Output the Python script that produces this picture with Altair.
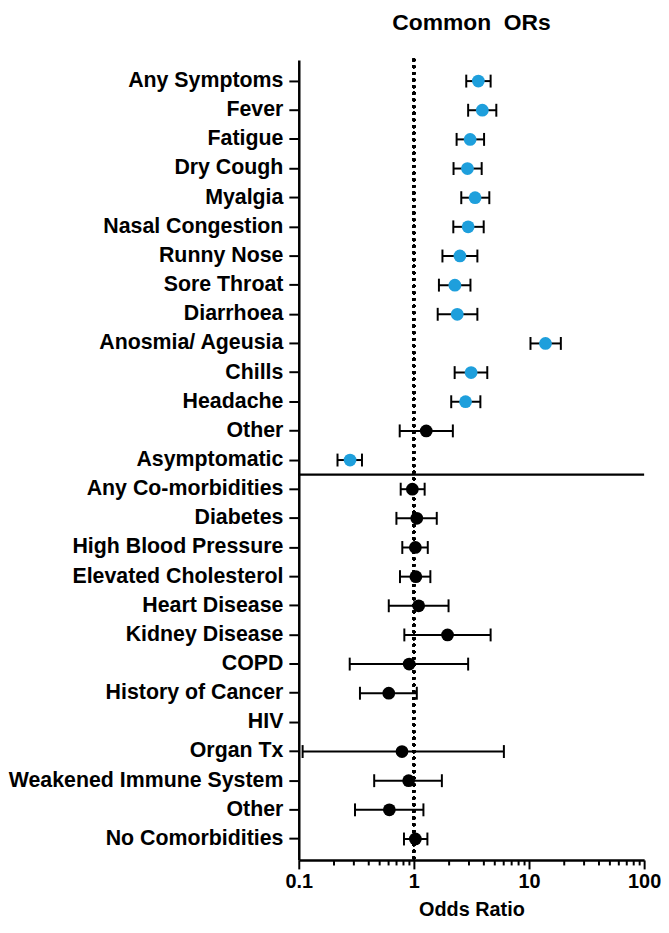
import altair as alt
import pandas as pd

labels = [
    "Any Symptoms", "Fever", "Fatigue", "Dry Cough", "Myalgia", "Nasal Congestion",
    "Runny Nose", "Sore Throat", "Diarrhoea", "Anosmia/ Ageusia", "Chills", "Headache",
    "Other", "Asymptomatic",
    "Any Co-morbidities", "Diabetes", "High Blood Pressure", "Elevated Cholesterol",
    "Heart Disease", "Kidney Disease", "COPD", "History of Cancer", "HIV", "Organ Tx",
    "Weakened Immune System", "Other ", "No Comorbidities",
]
or_vals = [3.63, 3.93, 3.08, 2.92, 3.40, 2.96, 2.51, 2.27, 2.38, 13.9, 3.14, 2.81, 1.28, 0.279,
           0.97, 1.06, 1.03, 1.04, 1.10, 1.96, 0.91, 0.605, None, 0.788, 0.90, 0.612, 1.03]
lo_vals = [2.85, 2.96, 2.35, 2.21, 2.58, 2.20, 1.77, 1.65, 1.61, 10.3, 2.26, 2.11, 0.753, 0.217,
           0.768, 0.705, 0.793, 0.757, 0.605, 0.826, 0.277, 0.340, None, 0.108, 0.452, 0.308, 0.82]
hi_vals = [4.64, 5.20, 4.07, 3.88, 4.52, 4.04, 3.56, 3.10, 3.56, 18.9, 4.34, 3.78, 2.18, 0.354,
           1.24, 1.58, 1.32, 1.39, 2.00, 4.64, 2.96, 1.06, None, 6.05, 1.75, 1.21, 1.31]
x_ticks_major = [0.1, 1, 10, 100]
x_ticks_minor = [0.2, 0.3, 0.4, 0.5, 0.6, 0.7, 0.8, 0.9,
                 2, 3, 4, 5, 6, 7, 8, 9,
                 20, 30, 40, 50, 60, 70, 80, 90]

sig = []
for lo, hi in zip(lo_vals, hi_vals):
    if lo is None:
        sig.append("ns")
    else:
        sig.append("sig" if (lo > 1 or hi < 1) else "ns")

df = pd.DataFrame({"label": labels, "or": or_vals, "lo": lo_vals, "hi": hi_vals, "sig": sig})

FONT = "Liberation Sans"
is_major = "abs(log(datum.value)/LN10 - round(log(datum.value)/LN10)) < 0.000001"

xscale = alt.Scale(type="log", domain=[0.1, 100], nice=False)
xaxis = alt.Axis(
    values=x_ticks_major + x_ticks_minor,
    format="~g",
    labelExpr=f"({is_major}) ? datum.label : ''",
    tickSize={"condition": {"test": is_major, "value": 9}, "value": 5},
    title="Odds Ratio",
    grid=False,
    labelFontSize=20,
    labelPadding=3,
    titleFontSize=20,
    titlePadding=8,
    domainWidth=2.5,
    tickWidth=2,
    labelFlush=False,
)
yscale = alt.Scale(type="band", domain=labels, paddingInner=0, paddingOuter=0.22)
yaxis = alt.Axis(
    title=None,
    labelExpr="trim(datum.label)",
    labelFontSize=21.5,
    labelPadding=6,
    labelLimit=0,
    tickSize=10,
    tickWidth=2,
    domainWidth=2.5,
    grid=False,
)

base = alt.Chart(df)
Y = alt.Y("label:N", scale=yscale, axis=yaxis, sort=labels)

dotted = alt.Chart(df).mark_rule(
    strokeDash=[0.1, 6.6], strokeWidth=3, strokeCap="round", color="black"
).encode(x=alt.X(datum=1, scale=xscale, axis=xaxis))
sep = alt.Chart(pd.DataFrame({"label": ["Any Co-morbidities"]})).mark_rule(
    strokeWidth=2.5, color="black"
).encode(y=alt.Y("label:N", scale=yscale, axis=yaxis, sort=labels, bandPosition=0))

bars = base.mark_rule(strokeWidth=2, color="black").encode(
    x=alt.X("lo:Q", scale=xscale, axis=xaxis), x2="hi:Q", y=Y
)
cap_lo = base.mark_tick(size=13, thickness=2, color="black", opacity=1).encode(
    x=alt.X("lo:Q", scale=xscale, axis=xaxis), y=Y
)
cap_hi = base.mark_tick(size=13, thickness=2, color="black", opacity=1).encode(
    x=alt.X("hi:Q", scale=xscale, axis=xaxis), y=Y
)
points = base.mark_circle(size=165, opacity=1).encode(
    x=alt.X("or:Q", scale=xscale, axis=xaxis),
    y=Y,
    color=alt.Color("sig:N", scale=alt.Scale(domain=["sig", "ns"], range=["#1E9FDC", "#000000"]), legend=None),
)

chart = alt.layer(dotted, sep, bars, cap_lo, cap_hi, points).properties(
    width=348,
    height=806,
    padding={"left": 0, "top": 0, "right": 0, "bottom": 0},
    title=alt.TitleParams(
        "Common\u00a0\u00a0ORs", fontSize=23, fontWeight="bold", font=FONT,
        anchor="middle", frame="group", offset=24, color="black",
    ),
).configure_axis(
    labelFont=FONT, titleFont=FONT, labelFontWeight="bold", titleFontWeight="bold",
    labelColor="black", titleColor="black", domainColor="black", tickColor="black",
).configure_view(stroke=None)

chart.save("out.html", embed_options={"renderer": "svg", "actions": False})
